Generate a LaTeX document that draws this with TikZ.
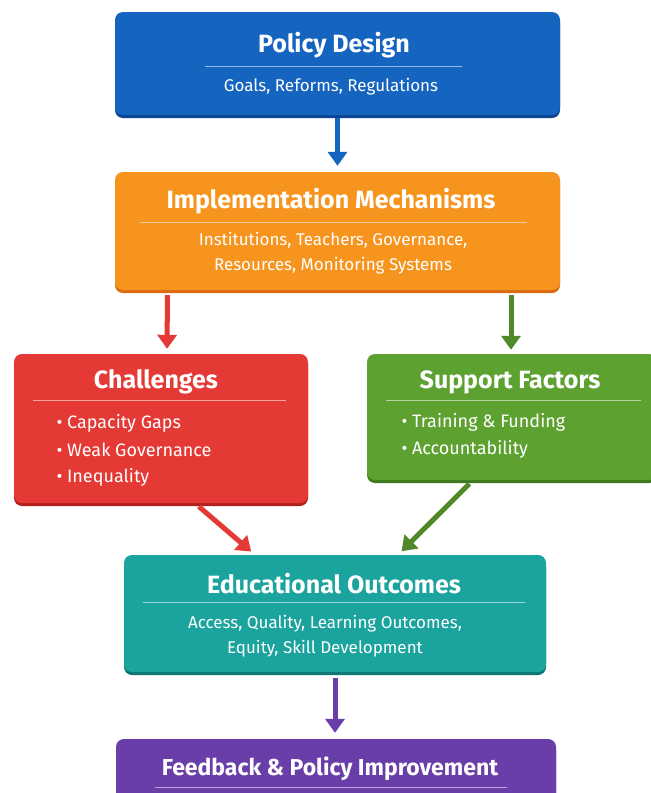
\documentclass[tikz,border=0pt]{standalone}
\usepackage{fontspec}
\setmainfont{Fira Sans}
\usetikzlibrary{arrows.meta,shadows}

\definecolor{bleu}{HTML}{1565C0}
\definecolor{bleufonce}{HTML}{0B4493}
\definecolor{orange}{HTML}{F7941E}
\definecolor{orangefonce}{HTML}{DB6A12}
\definecolor{rouge}{HTML}{E53935}
\definecolor{rougefonce}{HTML}{B3201D}
\definecolor{vert}{HTML}{5DA130}
\definecolor{vertfonce}{HTML}{3E7B1E}
\definecolor{sarcelle}{HTML}{1BA39E}
\definecolor{sarcellefonce}{HTML}{0E7775}
\definecolor{violet}{HTML}{6A3EA8}
\definecolor{violetfonce}{HTML}{472780}

\tikzset{
  boite/.style={rounded corners=8pt, inner sep=0pt, fill=#1, general shadow={fill=#1fonce, shadow yshift=-3pt}},
  titre/.style={text=white, font=\fontsize{25}{29}\selectfont\bfseries},
  corps/.style={text=white, align=center, font=\fontsize{17}{25}\selectfont},
  puce/.style={text=white, anchor=west, font=\fontsize{18}{22}\selectfont},
  filet/.style={white, opacity=0.55, line width=0.8pt},
  fleche/.style={line width=5pt, -{Triangle[width=19pt,length=14pt]}}
}

\begin{document}
\begin{tikzpicture}[x=1pt, y=-1pt]
   % Cadre de la figure
   \useasboundingbox (0,0) rectangle (651,793);
   \clip (0,0) rectangle (651,793);
   \fill[white] (0,0) rectangle (651,793);

   % Les boites
   \node[boite=bleu, minimum width=445pt, minimum height=103pt] (design) at (337.5,63.5) {};
   \node[boite=orange, minimum width=445pt, minimum height=118pt] (impl) at (337.5,231) {};
   \node[boite=rouge, minimum width=294pt, minimum height=149pt] (chal) at (161,428.5) {};
   \node[boite=vert, minimum width=290pt, minimum height=126pt] (supp) at (512,417) {};
   \node[boite=sarcelle, minimum width=422pt, minimum height=117pt] (outc) at (335,613.5) {};
   \node[boite=violet, minimum width=440pt, minimum height=112pt] (feed) at (336,795) {};

   % Titres et filets
   \node[titre] (tdesign) at (334,45) {Policy Design};
   \draw[filet] (205,66) -- (462,66);
   \node[corps] (cdesign) at (331,87) {Goals, Reforms, Regulations};

   \node[titre] (timpl) at (331,201) {Implementation Mechanisms};
   \draw[filet] (140,222) -- (527,222);
   \node[corps] (cimpl) at (333,253) {Institutions, Teachers, Governance,\\Resources, Monitoring Systems};

   \node[titre] (tchal) at (156,382) {Challenges};
   \draw[filet] (33,400) -- (286,400);
   \foreach \t [count=\i] in {Capacity Gaps, Weak Governance, Inequality} {
      \node[puce] (pchal\i) at (53,396+27*\i) {• \t};
   }

   \node[titre] (tsupp) at (510,382) {Support Factors};
   \draw[filet] (386,400) -- (641,400);
   \foreach \t [count=\i] in {Training \& Funding, Accountability} {
      \node[puce] (psupp\i) at (398,395+27*\i) {• \t};
   }

   \node[titre] (toutc) at (334,584) {Educational Outcomes};
   \draw[filet] (143,602) -- (525,602);
   \node[corps] (coutc) at (325,636.5) {Access, Quality, Learning Outcomes,\\Equity, Skill Development};

   \node[titre, font=\fontsize{23}{27}\selectfont\bfseries] (tfeed) at (330,769) {Feedback \& Policy Improvement};
   \draw[filet] (155,787) -- (507,787);

   % Les fleches
   \draw[fleche, bleu, shorten <=3pt, shorten >=6pt] (design.south) -- (impl.north);
   \draw[fleche, rouge, shorten <=5pt, shorten >=5pt] ([xshift=-170pt]impl.south) -- ([xshift=6pt]chal.north);
   \draw[fleche, vert!85!black, shorten <=5pt, shorten >=4pt] ([xshift=173.5pt]impl.south) -- ([xshift=-1pt]supp.north);
   \draw[fleche, rouge, shorten <=5pt, shorten >=5pt] ([xshift=34pt]chal.south) -- ([xshift=-80pt]outc.north);
   \draw[fleche, vert!85!black, shorten <=5pt, shorten >=5pt] ([xshift=-39pt]supp.south) -- ([xshift=63pt]outc.north);
   \draw[fleche, violet, shorten <=6pt, shorten >=6pt] (outc.south) -- ([xshift=-1pt]feed.north);
\end{tikzpicture}
\end{document}
